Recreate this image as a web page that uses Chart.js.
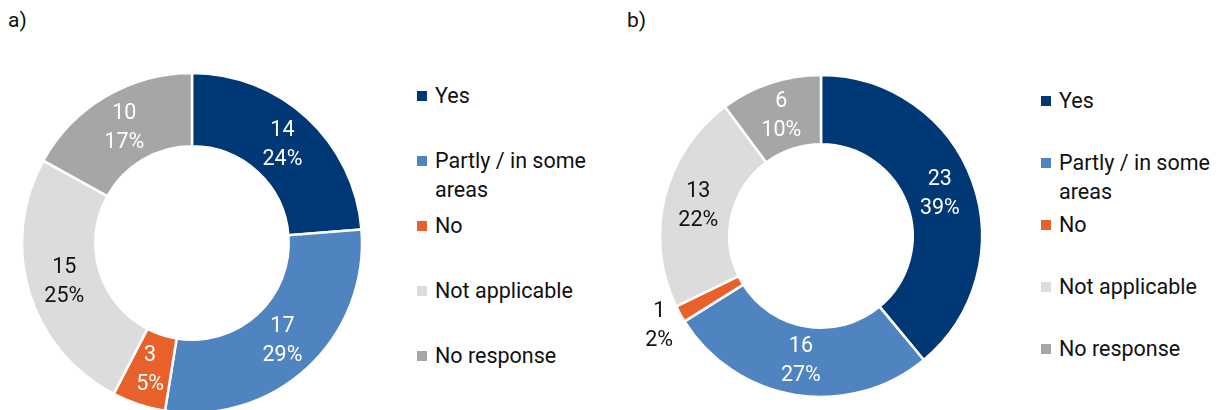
<!DOCTYPE html>
<html lang="en">
<head>
    <meta charset="UTF-8">
    <title>Doughnut a / b</title>
    <script src="https://cdn.jsdelivr.net/npm/chart.js"></script>
    <style>
        body {
            margin: 0;
            width: 1222px;
            height: 410px;
            overflow: hidden;
            background: #FFFFFF;
            font-family: Roboto, 'Noto Sans', sans-serif;
            color: #111111;
            position: relative;
        }
        .panel-title {
            position: absolute;
            top: 8px;
            font-size: 21px;
            line-height: 24px;
        }
        .chart-box {
            position: absolute;
            top: 0;
            width: 400px;
            height: 430px;
        }
        .legend {
            position: absolute;
            font-size: 21.5px;
            line-height: 29px;
        }
        .legend-item {
            position: relative;
            padding-left: 18px;
            width: 162px;
        }
        .legend-item .swatch {
            position: absolute;
            left: 0;
            top: 10px;
            width: 10px;
            height: 10px;
        }
    </style>
</head>
<body>
    <div class="panel-title" style="left:8px;">a)</div>
    <div class="panel-title" style="left:627px;">b)</div>

    <div class="chart-box" style="left:0;"><canvas id="chartA"></canvas></div>
    <div class="chart-box" style="left:620px;"><canvas id="chartB"></canvas></div>

    <div class="legend" id="legendA" style="left:417px; top:81px;"></div>
    <div class="legend" id="legendB" style="left:1041px; top:86px;"></div>

    <script>
        // categories and values
        const categories = ['Yes', 'Partly / in some areas', 'No', 'Not applicable', 'No response'];
        const valuesA = [14, 17, 3, 15, 10];
        const valuesB = [23, 16, 1, 13, 6];
        const percentA = ['24%', '29%', '5%', '25%', '17%'];
        const percentB = ['39%', '27%', '2%', '22%', '10%'];

        const colors = ['#003876', '#4F84C1', '#E8612B', '#DCDCDC', '#A6A6A6'];
        const labelColors = ['#FFFFFF', '#FFFFFF', '#FFFFFF', '#111111', '#FFFFFF'];

        // "value / percent" labels drawn on each slice
        const sliceLabels = {
            id: 'sliceLabels',
            afterDatasetsDraw(chart, args, opts) {
                const ctx = chart.ctx;
                const meta = chart.getDatasetMeta(0);
                const values = chart.data.datasets[0].data;
                ctx.save();
                ctx.font = '21.5px Roboto, "Noto Sans", sans-serif';
                ctx.textAlign = 'center';
                ctx.textBaseline = 'middle';
                meta.data.forEach((arc, i) => {
                    const p = arc.getProps(['x', 'y', 'startAngle', 'endAngle', 'innerRadius', 'outerRadius'], true);
                    const mid = (p.startAngle + p.endAngle) / 2;
                    let r = (p.innerRadius + p.outerRadius) / 2;
                    let color = labelColors[i];
                    if (opts.outside && opts.outside.includes(i)) {
                        r = p.outerRadius + 24;
                        color = '#111111';
                    }
                    const x = p.x + Math.cos(mid) * r;
                    const y = p.y + Math.sin(mid) * r;
                    ctx.fillStyle = color;
                    ctx.fillText(String(values[i]), x, y - 14);
                    ctx.fillText(opts.percents[i], x, y + 15);
                });
                ctx.restore();
            }
        };

        function makeDoughnut(id, values, percents, radius, cutout, padding, outside) {
            return new Chart(document.getElementById(id), {
                type: 'doughnut',
                data: {
                    labels: categories,
                    datasets: [{
                        data: values,
                        backgroundColor: colors,
                        borderColor: '#FFFFFF',
                        borderWidth: 2.5,
                        hoverOffset: 0
                    }]
                },
                options: {
                    responsive: true,
                    maintainAspectRatio: false,
                    animation: false,
                    radius: radius,
                    cutout: cutout,
                    layout: { padding: padding },
                    plugins: {
                        legend: { display: false },
                        tooltip: { enabled: false },
                        sliceLabels: { percents: percents, outside: outside }
                    }
                },
                plugins: [sliceLabels]
            });
        }

        makeDoughnut('chartA', valuesA, percentA, 170, 96,
            { left: 22, right: 38, top: 73, bottom: 17 }, []);
        makeDoughnut('chartB', valuesB, percentB, 161, 91,
            { left: 40, right: 38, top: 75, bottom: 33 }, [2]);

        // html legends
        function buildLegend(id, spacing) {
            const box = document.getElementById(id);
            categories.forEach((name, i) => {
                const item = document.createElement('div');
                item.className = 'legend-item';
                item.style.height = spacing + 'px';
                const sw = document.createElement('span');
                sw.className = 'swatch';
                sw.style.background = colors[i];
                item.appendChild(sw);
                item.appendChild(document.createTextNode(name));
                box.appendChild(item);
            });
        }
        buildLegend('legendA', 65);
        buildLegend('legendB', 62);
    </script>
</body>
</html>
